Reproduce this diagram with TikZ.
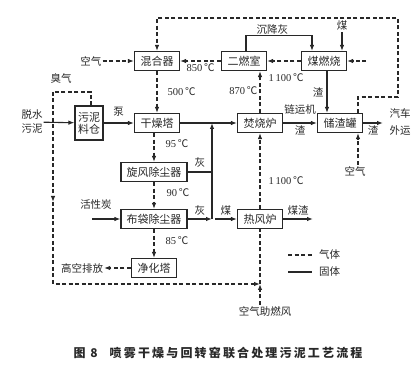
\documentclass[tikz,border=0pt]{standalone}
\usepackage{fontspec}
\setmainfont{Noto Sans CJK SC}
\newfontfamily\numfont{Liberation Serif}
\newfontfamily\capfont[LetterSpace=18]{Noto Sans CJK SC}
\usetikzlibrary{arrows.meta,positioning,calc}
\definecolor{lnblack}{RGB}{40,40,40}
\newcommand{\degc}[1]{{\numfont #1}\,℃}

\begin{document}
\begin{tikzpicture}[x=1pt, y=-1pt,
    unit/.style={draw=lnblack, line width=1.2pt, fill=white, minimum width=45pt,
                 minimum height=19pt, inner sep=1pt, text=lnblack, font=\fontsize{11}{12}\selectfont},
    lbl/.style={font=\fontsize{10.5}{12}\selectfont, text=lnblack, inner sep=1pt},
    gas/.style={lnblack, line width=1.1pt, dash pattern=on 4pt off 2.5pt},
    solidln/.style={lnblack, line width=1.1pt},
    flow/.style={-{Latex[length=6pt,width=4.5pt]}}]

\useasboundingbox (0,0) rectangle (416,390);

% --- Units ---
\node[unit] (mixer) at (157,61) {混合器};
\node[unit] (burner) at (244,61) {二燃室};
\node[unit] (coalburn) at (324,61) {煤燃烧};
\node[unit, minimum width=28pt, minimum height=34pt, inner sep=0pt, align=center] (silo) at (89,123) {污泥\\料仓};
\node[unit] (dryer) at (157,123) {干燥塔};
\node[unit] (kiln) at (260,123) {焚烧炉};
\node[unit] (slagtank) at (340,123) {储渣罐};
\node[unit, minimum width=66pt] (cyclone) at (154,172) {旋风除尘器};
\node[unit, minimum width=66pt] (bagfilter) at (154,219) {布袋除尘器};
\node[unit] (hotstove) at (260,219) {热风炉};
\node[unit] (scrubber) at (154,268) {净化塔};

% --- Free labels ---
\node[lbl] (air1) at (91,61) {空气};
\node[lbl] (coal1) at (342,26) {煤};
\node[lbl] (odor) at (61,79) {臭气};
\node[lbl, align=center, font=\fontsize{10.5}{14}\selectfont] (sludge) at (32,122) {脱水\\污泥};
\node[lbl, align=center, font=\fontsize{10.5}{17}\selectfont] (truck) at (400,122) {汽车\\外运};
\node[lbl] (air2) at (355,171) {空气};
\node[lbl] (carbon) at (96,205) {活性炭};
\node[lbl] (exhaust) at (82,268) {高空排放};
\node[lbl] (airfan) at (265,311) {空气助燃风};

\coordinate (cbin) at (366,61);
\coordinate (truckin) at (383,123);
\coordinate (ashtop) at (212,123);
\coordinate (ashbot) at (212,219);
\coordinate (carbin) at (92,219);
\coordinate (coalin) at (215,219);
\coordinate (slagout) at (313,219);
\coordinate (junc) at (260,284);
\coordinate (odtop) at (53,92);
\coordinate (odmid) at (53,202);

% --- Top row ---
\draw[gas,flow] (air1) -- (mixer);
\draw[gas,flow] (cbin) -- (coalburn);
\draw[gas,flow] (coalburn) -- (burner);
\draw[gas,flow] (burner) -- node[lbl,below=1pt]{\degc{850}} (mixer);
\draw[solidln,flow] ([xshift=2pt]burner.north) -- ++(0,-15) -| node[lbl,above,pos=0.2]{沉降灰} ([xshift=-12pt]coalburn.north);
\draw[solidln,flow] (coal1) -- (coal1 |- coalburn.north);
\draw[solidln,flow] ([xshift=3pt]coalburn.south) -- node[lbl,left=2pt]{渣} ([xshift=3pt]coalburn.south |- slagtank.north);

% return loop to mixer
\draw[gas,flow] ([xshift=18pt]slagtank.north) |- (398,97) -- (398,18) -| (mixer.north);

% --- Kiln row ---
\draw[gas,flow] (kiln.north) -- node[lbl,pos=0.53,left=1pt]{\degc{870}}
    node[lbl,pos=0.84,right=7pt]{\degc{1\,100}} (kiln.north |- burner.south);
\draw[solidln,flow] (sludge) -- (silo);
\draw[solidln,flow] (silo.east) -- node[lbl,above=5pt]{泵} (silo.east -| dryer.west);
\draw[solidln,flow] (dryer.east) -- (kiln.west);
\draw[solidln,flow] (kiln.east) -- node[lbl,above=7pt]{链运机} node[lbl,below=1pt]{渣} (slagtank.west);
\draw[solidln,flow] (slagtank.east) -- node[lbl,below=1pt]{渣} (truckin);
\draw[gas,flow] ([xshift=3pt]air2.north) -- ([xshift=3pt]air2.north |- slagtank.south);

% --- Gas cleaning ---
\draw[gas,flow] (mixer.south) -- node[lbl,right=9pt]{\degc{500}} (dryer.north);
\draw[gas,flow] (dryer.south -| cyclone.north) -- node[lbl,pos=0.35,right=10pt]{\degc{95}} (cyclone.north);
\draw[gas,flow] (cyclone.south) -- node[lbl,pos=0.4,right=11pt]{\degc{90}} (bagfilter.north);
\draw[gas,flow] (bagfilter.south) -- node[lbl,pos=0.4,right=10pt]{\degc{85}} (scrubber.north);
\draw[solidln,flow] (carbin) -- (bagfilter.west);
\draw[gas,flow] (scrubber.west) -- (exhaust.east);

% ash back to kiln feed
\draw[solidln,flow] (ashbot) -- (ashtop);
\draw[solidln] (cyclone.east) -- node[lbl,above=3pt]{灰} (cyclone.east -| ashtop);
\draw[solidln,flow] (bagfilter.east) -- node[lbl,above=2pt]{灰} (ashbot);

% --- Hot stove ---
\draw[solidln,flow] (coalin) -- node[lbl,above=2pt]{煤} (hotstove.west);
\draw[solidln,flow] (hotstove.east) -- node[lbl,above=2pt]{煤渣} (slagout);
\draw[gas,flow] (hotstove.north) -- node[lbl,pos=0.37,right=7pt]{\degc{1\,100}} (kiln.south);
\draw[gas,flow] (airfan.north -| junc) -- (junc);
\draw[gas] (junc) -- (hotstove.south);

% odour loop
\draw[gas] ([xshift=2pt]silo.north) |- (odtop);
\draw[gas,flow] (odtop) -- (odmid);
\draw[gas,flow] (odmid) |- (junc);

% --- Legend ---
\draw[gas] (288,255) -- (312,255);
\node[lbl, anchor=west] (leggas) at (318,254) {气体};
\draw[solidln] (288,272) -- (312,272);
\node[lbl, anchor=west] (legsolid) at (318,272) {固体};

% caption
\node[text=lnblack, font=\capfont\bfseries\fontsize{12}{14}\selectfont] (caption) at (218,353)
    {图 8\quad 喷雾干燥与回转窑联合处理污泥工艺流程};

\end{tikzpicture}
\end{document}
